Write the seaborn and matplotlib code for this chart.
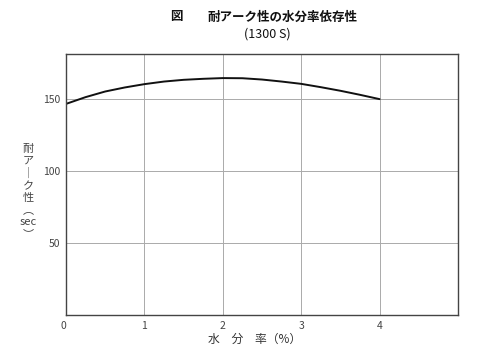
import matplotlib
matplotlib.use("Agg")
import matplotlib.pyplot as plt
import seaborn as sns
import pandas as pd

moisture = [0, 0.25, 0.5, 0.75, 1, 1.25, 1.5, 1.75, 2, 2.25, 2.5, 2.75, 3, 3.25, 3.5, 3.75, 4]
arc_resistance = [146.5, 151.2, 155.1, 157.9, 160.2, 162.0, 163.2, 163.9, 164.4,
                  164.3, 163.4, 162.0, 160.4, 158.1, 155.6, 152.8, 149.8]
x_ticks = [0, 1, 2, 3, 4]
y_ticks = [50, 100, 150]

sns.set_theme(style="white")
plt.rcParams['font.family'] = ['Noto Sans CJK JP', 'DejaVu Sans']

df = pd.DataFrame({"x": moisture, "y": arc_resistance})

fig = plt.figure(figsize=(5.0, 3.61), dpi=100)
ax = fig.add_axes([0.132, 0.127, 0.784, 0.723])
sns.lineplot(data=df, x="x", y="y", ax=ax, color="#111111", linewidth=1.4)

ax.set_xlim(0, 5)
ax.set_ylim(0, 181)
ax.set_xticks(x_ticks)
ax.set_yticks(y_ticks)
ax.set_xticklabels([str(t) for t in x_ticks])
ax.set_yticklabels([str(t) for t in y_ticks])
ax.tick_params(axis="both", length=0, labelsize=7.5, colors="#444444", pad=4)
ax.get_xticklabels()[0].set_ha("right")
ax.grid(True, color="#aaaaaa", linewidth=0.7)
for s in ax.spines.values():
    s.set_color("#444444")
    s.set_linewidth(1.0)
ax.set_xlabel("")
ax.set_ylabel("")

fig.text(0.51, 0.06, "水　分　率（%）", ha="center", va="center", fontsize=8.5, color="#333333")
fig.text(0.056, 0.47, "耐\nア\n｜\nク\n性\n︵\nsec\n︶", ha="center", va="center",
         fontsize=8, color="#444444", linespacing=1.25)
fig.text(0.34, 0.953, "図", ha="left", va="center", fontsize=9, color="#111111", fontweight="bold")
fig.text(0.415, 0.953, "耐アーク性の水分率依存性", ha="left", va="center", fontsize=9,
         color="#111111", fontweight="bold")
fig.text(0.535, 0.905, "(1300 S)", ha="center", va="center", fontsize=9, color="#111111")

fig.savefig("out.png", dpi=100)
